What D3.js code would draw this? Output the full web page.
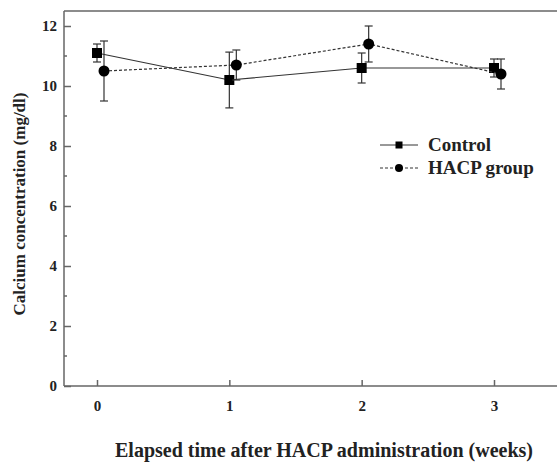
<!DOCTYPE html>
<html>
<head>
<meta charset="utf-8">
<script src="https://cdn.jsdelivr.net/npm/d3@7"></script>
<style>
  body { margin: 0; background: #fff; }
  svg text { font-family: "Liberation Serif", "Times New Roman", serif; font-weight: bold; fill: #222; }
</style>
</head>
<body>
<div id="chart"></div>
<script>
// time points (weeks)
const weeks = [0, 1, 2, 3];
// Control group: mean and SD
const controlMean = [11.1, 10.2, 10.6, 10.6];
const controlSD = [0.3, 0.93, 0.5, 0.3];
// HACP group: mean and SD
const hacpMean = [10.5, 10.7, 11.4, 10.4];
const hacpSD = [1.0, 0.5, 0.6, 0.5];
const yTicks = [0, 2, 4, 6, 8, 10, 12];
const seriesNames = ["Control", "HACP group"];

const width = 557, height = 462;
const margin = { top: 11, right: 0, bottom: 76, left: 64 };
const dodge = 7;

const x = d3.scaleLinear().domain([0, 3]).range([97, 494]);
const y = d3.scaleLinear().domain([0, 12.5]).range([height - margin.bottom, margin.top]);

const svg = d3.select("#chart").append("svg")
  .attr("width", width)
  .attr("height", height);

const axisColor = "#666";

// frame: left, top and bottom lines
svg.append("line")
  .attr("x1", margin.left).attr("x2", width)
  .attr("y1", y(12.5)).attr("y2", y(12.5))
  .attr("stroke", axisColor).attr("stroke-width", 1.5);

// y axis, ticks pointing in
const yAxis = svg.append("g")
  .attr("transform", `translate(${margin.left},0)`)
  .call(d3.axisRight(y).tickValues(yTicks).tickSize(7).tickFormat(d3.format("d")));
yAxis.select(".domain").remove();
yAxis.selectAll(".tick line").attr("stroke", axisColor).attr("stroke-width", 1.5);
yAxis.selectAll(".tick text")
  .attr("x", -7).attr("text-anchor", "end")
  .style("font-size", "15px");

// minor y ticks
svg.append("g").selectAll("line")
  .data(d3.range(1, 13, 2))
  .join("line")
    .attr("x1", margin.left).attr("x2", margin.left + 3)
    .attr("y1", d => y(d)).attr("y2", d => y(d))
    .attr("stroke", axisColor).attr("stroke-width", 1.5);

svg.append("line")
  .attr("x1", margin.left).attr("x2", margin.left)
  .attr("y1", y(12.5)).attr("y2", y(0))
  .attr("stroke", axisColor).attr("stroke-width", 1.5);

// x axis, ticks pointing in
const xAxis = svg.append("g")
  .attr("transform", `translate(0,${y(0)})`)
  .call(d3.axisTop(x).tickValues(weeks).tickSize(6).tickFormat(d3.format("d")));
xAxis.select(".domain").remove();
xAxis.selectAll(".tick line").attr("stroke", axisColor).attr("stroke-width", 1.5);
xAxis.selectAll(".tick text")
  .attr("y", 25)
  .style("font-size", "15px");

svg.append("line")
  .attr("x1", margin.left).attr("x2", width)
  .attr("y1", y(0)).attr("y2", y(0))
  .attr("stroke", axisColor).attr("stroke-width", 1.5);

// axis titles
svg.append("text")
  .attr("x", 324).attr("y", 457)
  .attr("text-anchor", "middle")
  .style("font-size", "20px")
  .text("Elapsed time after HACP administration (weeks)");

svg.append("text")
  .attr("transform", "translate(25,204) rotate(-90)")
  .attr("text-anchor", "middle")
  .style("font-size", "17px")
  .text("Calcium concentration (mg/dl)");

const lineColor = "#333";

function drawSeries(means, sds, offset, dash, shape) {
  const pts = weeks.map((w, i) => ({ w, m: means[i], sd: sds[i] }));
  const g = svg.append("g");
  const line = d3.line().x(d => x(d.w) + offset).y(d => y(d.m));

  g.append("path")
    .datum(pts)
    .attr("d", line)
    .attr("fill", "none")
    .attr("stroke", lineColor)
    .attr("stroke-width", 1.2)
    .attr("stroke-dasharray", dash);

  const eb = g.selectAll(".eb").data(pts).join("g").attr("class", "eb")
    .attr("stroke", lineColor).attr("stroke-width", 1.2);
  eb.append("line")
    .attr("x1", d => x(d.w) + offset).attr("x2", d => x(d.w) + offset)
    .attr("y1", d => y(d.m + d.sd)).attr("y2", d => y(d.m - d.sd));
  eb.append("line")
    .attr("x1", d => x(d.w) + offset - 4).attr("x2", d => x(d.w) + offset + 4)
    .attr("y1", d => y(d.m + d.sd)).attr("y2", d => y(d.m + d.sd));
  eb.append("line")
    .attr("x1", d => x(d.w) + offset - 4).attr("x2", d => x(d.w) + offset + 4)
    .attr("y1", d => y(d.m - d.sd)).attr("y2", d => y(d.m - d.sd));

  if (shape === "square") {
    g.selectAll("rect").data(pts).join("rect")
      .attr("x", d => x(d.w) + offset - 5)
      .attr("y", d => y(d.m) - 5)
      .attr("width", 10).attr("height", 10)
      .attr("fill", "#000");
  } else {
    g.selectAll("circle").data(pts).join("circle")
      .attr("cx", d => x(d.w) + offset)
      .attr("cy", d => y(d.m))
      .attr("r", 5.5)
      .attr("fill", "#000");
  }
}

drawSeries(controlMean, controlSD, 0, null, "square");
drawSeries(hacpMean, hacpSD, dodge, "3,2", "circle");

// legend
const legend = svg.append("g").attr("transform", "translate(380,145)");
seriesNames.forEach((name, i) => {
  const row = legend.append("g").attr("transform", `translate(0,${i * 23})`);
  row.append("line")
    .attr("x1", 0).attr("x2", 38)
    .attr("stroke", lineColor).attr("stroke-width", 1)
    .attr("stroke-dasharray", i === 0 ? null : "3,2");
  if (i === 0) {
    row.append("rect").attr("x", 15.5).attr("y", -3.5).attr("width", 7).attr("height", 7).attr("fill", "#000");
  } else {
    row.append("circle").attr("cx", 19).attr("r", 4).attr("fill", "#000");
  }
  row.append("text")
    .attr("x", 48).attr("y", 6)
    .style("font-size", "19px")
    .text(name);
});
</script>
</body>
</html>
